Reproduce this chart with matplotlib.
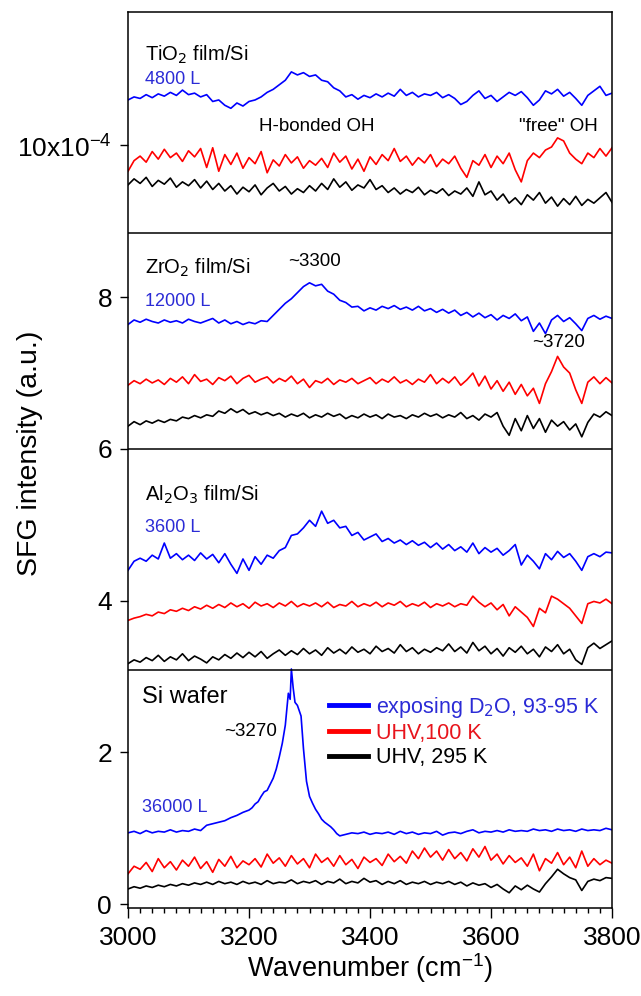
import numpy as np
import matplotlib.pyplot as plt
from matplotlib.lines import Line2D
from matplotlib.ticker import MultipleLocator

plt.rcParams['font.family'] = ['Liberation Sans', 'DejaVu Sans']

# common wavenumber grid (cm-1)
wn = np.arange(3000, 3801, 10)

# TiO2 film/Si
tio2_d2o = [10.60, 10.64, 10.62, 10.67, 10.63, 10.68, 10.65, 10.70, 10.66, 10.73,
            10.67, 10.69, 10.64, 10.67, 10.58, 10.60, 10.53, 10.49, 10.56, 10.52,
            10.58, 10.60, 10.64, 10.70, 10.74, 10.80, 10.86, 10.97, 10.93, 10.96,
            10.91, 10.93, 10.86, 10.84, 10.76, 10.72, 10.64, 10.67, 10.61, 10.66,
            10.63, 10.68, 10.64, 10.69, 10.65, 10.74, 10.66, 10.70, 10.64, 10.68,
            10.66, 10.70, 10.63, 10.67, 10.62, 10.54, 10.58, 10.66, 10.72, 10.62,
            10.66, 10.58, 10.64, 10.70, 10.66, 10.71, 10.63, 10.53, 10.60, 10.72,
            10.68, 10.74, 10.65, 10.70, 10.62, 10.53, 10.66, 10.72, 10.78, 10.66,
            10.69]
tio2_100k = [9.66, 9.80, 9.86, 9.78, 9.92, 9.82, 9.95, 9.84, 9.90, 9.79,
             9.93, 9.85, 9.96, 9.71, 9.97, 9.66, 9.88, 9.75, 9.90, 9.70,
             9.84, 9.76, 9.92, 9.64, 9.81, 9.73, 9.88, 9.77, 9.85, 9.70,
             9.80, 9.74, 9.83, 9.71, 9.90, 9.78, 9.86, 9.69, 9.82, 9.66,
             9.85, 9.75, 9.88, 9.80, 9.96, 9.79, 9.86, 9.74, 9.84, 9.77,
             9.88, 9.72, 9.82, 9.76, 9.86, 9.70, 9.58, 9.80, 9.74, 9.88,
             9.71, 9.86, 9.76, 9.90, 9.68, 9.52, 9.80, 9.90, 9.84, 9.94,
             9.98, 10.10, 10.06, 9.90, 9.82, 9.76, 9.90, 9.84, 9.96, 9.86,
             9.97]
tio2_295k = [9.48, 9.56, 9.50, 9.58, 9.46, 9.54, 9.49, 9.57, 9.45, 9.52,
             9.47, 9.55, 9.44, 9.53, 9.42, 9.50, 9.40, 9.47, 9.36, 9.45,
             9.39, 9.48, 9.35, 9.44, 9.50, 9.40, 9.46, 9.36, 9.43, 9.38,
             9.47, 9.40, 9.50, 9.42, 9.56, 9.45, 9.52, 9.41, 9.48, 9.44,
             9.55, 9.42, 9.47, 9.38, 9.44, 9.36, 9.42, 9.38, 9.45, 9.35,
             9.41, 9.37, 9.43, 9.34, 9.40, 9.36, 9.44, 9.33, 9.52, 9.35,
             9.40, 9.28, 9.36, 9.24, 9.31, 9.22, 9.35, 9.28, 9.38, 9.24,
             9.32, 9.20, 9.30, 9.22, 9.33, 9.21, 9.29, 9.24, 9.31, 9.38,
             9.25]

# ZrO2 film/Si
zro2_d2o = [7.64, 7.70, 7.67, 7.71, 7.68, 7.66, 7.70, 7.67, 7.69, 7.66,
            7.71, 7.68, 7.66, 7.69, 7.72, 7.66, 7.70, 7.65, 7.68, 7.64,
            7.67, 7.65, 7.69, 7.68, 7.76, 7.84, 7.92, 7.98, 8.06, 8.14,
            8.19, 8.15, 8.17, 8.08, 8.04, 7.96, 7.93, 7.87, 7.88, 7.82,
            7.86, 7.83, 7.88, 7.85, 7.89, 7.84, 7.87, 7.83, 7.88, 7.82,
            7.85, 7.80, 7.84, 7.79, 7.83, 7.76, 7.80, 7.74, 7.79, 7.73,
            7.77, 7.70, 7.76, 7.72, 7.78, 7.69, 7.74, 7.55, 7.66, 7.52,
            7.70, 7.76, 7.68, 7.73, 7.65, 7.56, 7.72, 7.76, 7.71, 7.75,
            7.72]
zro2_100k = [6.84, 6.90, 6.86, 6.92, 6.87, 6.91, 6.85, 6.93, 6.88, 6.95,
             6.86, 6.98, 6.89, 6.92, 6.85, 6.94, 6.90, 6.96, 6.86, 6.93,
             6.97, 6.88, 6.92, 6.95, 6.87, 6.93, 6.89, 6.96, 6.86, 6.92,
             6.81, 6.90, 6.87, 6.93, 6.85, 6.91, 6.88, 6.93, 6.86, 6.90,
             6.94, 6.86, 6.92, 6.88, 6.95, 6.87, 6.91, 6.85, 6.92, 6.88,
             6.98, 6.86, 6.93, 6.87, 6.95, 6.84, 6.91, 7.00, 6.83, 6.96,
             6.79, 6.90, 6.76, 6.88, 6.72, 6.85, 6.70, 6.80, 6.60, 6.86,
             7.02, 7.22, 7.08, 7.00, 6.78, 6.60, 6.88, 6.95, 6.86, 6.94,
             6.87]
zro2_295k = [6.30, 6.36, 6.32, 6.37, 6.34, 6.38, 6.35, 6.39, 6.37, 6.42,
             6.40, 6.44, 6.41, 6.45, 6.43, 6.50, 6.47, 6.53, 6.48, 6.52,
             6.46, 6.49, 6.45, 6.48, 6.44, 6.47, 6.42, 6.46, 6.43, 6.47,
             6.41, 6.45, 6.42, 6.47, 6.43, 6.46, 6.40, 6.44, 6.41, 6.46,
             6.42, 6.45, 6.40, 6.46, 6.42, 6.44, 6.40, 6.45, 6.42, 6.47,
             6.43, 6.46, 6.41, 6.45, 6.42, 6.48, 6.40, 6.44, 6.38, 6.46,
             6.42, 6.48, 6.30, 6.18, 6.40, 6.24, 6.44, 6.27, 6.40, 6.22,
             6.38, 6.30, 6.36, 6.25, 6.33, 6.16, 6.35, 6.46, 6.42, 6.49,
             6.44]

# Al2O3 film/Si
al2o3_d2o = [4.40, 4.52, 4.56, 4.52, 4.60, 4.55, 4.76, 4.56, 4.62, 4.54,
             4.60, 4.53, 4.63, 4.55, 4.61, 4.50, 4.62, 4.48, 4.36, 4.55,
             4.40, 4.58, 4.48, 4.60, 4.56, 4.66, 4.70, 4.86, 4.88, 4.96,
             5.06, 4.98, 5.18, 5.02, 5.06, 4.96, 4.98, 4.86, 4.90, 4.80,
             4.84, 4.88, 4.78, 4.82, 4.76, 4.80, 4.74, 4.79, 4.73, 4.77,
             4.70, 4.76, 4.68, 4.74, 4.66, 4.71, 4.64, 4.76, 4.62, 4.70,
             4.64, 4.69, 4.60, 4.66, 4.74, 4.47, 4.60, 4.52, 4.42, 4.62,
             4.54, 4.65, 4.57, 4.62, 4.52, 4.40, 4.58, 4.62, 4.58, 4.64,
             4.63]
al2o3_100k = [3.74, 3.77, 3.79, 3.82, 3.80, 3.85, 3.83, 3.88, 3.86, 3.90,
              3.87, 3.92, 3.89, 3.94, 3.90, 3.95, 3.91, 3.97, 3.92, 3.96,
              3.90, 3.98, 3.93, 3.96, 3.91, 3.97, 3.93, 3.99, 3.92, 3.96,
              3.93, 3.97, 3.92, 3.98, 3.91, 3.95, 3.93, 3.99, 3.92, 3.96,
              3.93, 3.98, 3.92, 3.97, 3.94, 3.99, 3.92, 3.96, 3.93, 3.98,
              3.91, 3.96, 3.93, 3.97, 3.92, 3.96, 3.94, 4.06, 3.98, 3.92,
              3.97, 3.88, 3.95, 3.80, 3.92, 3.85, 3.78, 3.66, 3.90, 3.84,
              4.06, 4.02, 3.96, 3.90, 3.80, 3.70, 3.96, 3.99, 3.97, 4.02,
              3.96]
al2o3_295k = [3.17, 3.22, 3.19, 3.25, 3.21, 3.28, 3.20, 3.26, 3.22, 3.30,
              3.21, 3.27, 3.23, 3.18, 3.26, 3.22, 3.29, 3.24, 3.31, 3.25,
              3.32, 3.26, 3.33, 3.24, 3.30, 3.35, 3.28, 3.34, 3.29, 3.37,
              3.30, 3.35, 3.28, 3.38, 3.31, 3.36, 3.30, 3.39, 3.32, 3.36,
              3.30, 3.40, 3.33, 3.37, 3.31, 3.42, 3.33, 3.38, 3.30, 3.36,
              3.32, 3.38, 3.34, 3.43, 3.33, 3.39, 3.31, 3.45, 3.34, 3.40,
              3.30, 3.37, 3.27, 3.38, 3.32, 3.40, 3.30, 3.36, 3.26, 3.39,
              3.33, 3.42, 3.30, 3.36, 3.22, 3.16, 3.38, 3.44, 3.37, 3.42,
              3.47]

# Si wafer (finer steps through the narrow 3270 band)
wn_si = [3000, 3010, 3020, 3030, 3040, 3050, 3060, 3070, 3080, 3090,
         3100, 3110, 3120, 3130, 3140, 3150, 3160, 3170, 3180, 3190,
         3200, 3205, 3210, 3215, 3220, 3225, 3230, 3235, 3240, 3245,
         3250, 3255, 3260, 3265, 3268, 3270, 3273, 3276, 3280, 3283,
         3286, 3290, 3295, 3300, 3305, 3310, 3315, 3320, 3325, 3330,
         3335, 3340, 3345, 3350, 3360, 3370, 3380, 3390, 3400, 3410,
         3420, 3430, 3440, 3450, 3460, 3470, 3480, 3490, 3500, 3510,
         3520, 3530, 3540, 3550, 3560, 3570, 3580, 3590, 3600, 3610,
         3620, 3630, 3640, 3650, 3660, 3670, 3680, 3690, 3700, 3710,
         3720, 3730, 3740, 3750, 3760, 3770, 3780, 3790, 3800]
si_d2o = [0.94, 0.96, 0.93, 0.97, 0.94, 0.96, 0.95, 0.98, 0.95, 0.97,
          0.96, 0.99, 0.97, 1.04, 1.06, 1.08, 1.10, 1.14, 1.17, 1.21,
          1.24, 1.27, 1.32, 1.35, 1.42, 1.48, 1.50, 1.58, 1.66, 1.78,
          1.94, 2.12, 2.36, 2.78, 2.70, 3.10, 2.85, 2.66, 2.62, 2.55,
          2.48, 2.05, 1.62, 1.42, 1.33, 1.25, 1.19, 1.12, 1.08, 1.05,
          1.02, 0.98, 0.93, 0.90, 0.92, 0.94, 0.93, 0.95, 0.92, 0.94,
          0.93, 0.95, 0.92, 0.96, 0.93, 0.95, 0.92, 0.94, 0.93, 0.96,
          0.91, 0.94, 0.95, 0.93, 0.96, 0.98, 0.94, 0.96, 0.95, 0.97,
          0.95, 0.98, 0.96, 0.97, 0.96, 0.99, 0.97, 0.98, 0.96, 0.99,
          0.97, 0.98, 0.96, 0.99, 0.97, 0.98, 0.97, 1.00, 0.98]
si_100k = [0.40, 0.50, 0.46, 0.55, 0.43, 0.60, 0.48, 0.56, 0.45, 0.58,
           0.50, 0.62, 0.47, 0.56, 0.42, 0.59, 0.50, 0.63, 0.48, 0.57,
           0.52, 0.60, 0.49, 0.66, 0.54, 0.61, 0.50, 0.64, 0.53, 0.60,
           0.48, 0.66, 0.55, 0.61, 0.50, 0.64, 0.52, 0.59, 0.47, 0.62,
           0.55, 0.60, 0.51, 0.66, 0.56, 0.63, 0.54, 0.70, 0.60, 0.74,
           0.62, 0.70, 0.58, 0.72, 0.60, 0.68, 0.57, 0.73, 0.62, 0.76,
           0.58, 0.66, 0.53, 0.64, 0.55, 0.61, 0.50, 0.66, 0.44, 0.60,
           0.54, 0.68, 0.52, 0.62, 0.48, 0.70, 0.50, 0.60, 0.52, 0.58,
           0.54]
si_295k = [0.20, 0.23, 0.21, 0.24, 0.22, 0.25, 0.23, 0.26, 0.24, 0.27,
           0.25, 0.28, 0.26, 0.29, 0.26, 0.30, 0.27, 0.29, 0.26, 0.30,
           0.27, 0.29, 0.26, 0.31, 0.27, 0.29, 0.28, 0.32, 0.27, 0.30,
           0.28, 0.31, 0.26, 0.30, 0.28, 0.33, 0.27, 0.30, 0.28, 0.34,
           0.29, 0.31, 0.26, 0.30, 0.27, 0.31, 0.26, 0.29, 0.27, 0.30,
           0.26, 0.29, 0.27, 0.30, 0.26, 0.29, 0.24, 0.28, 0.25, 0.27,
           0.22, 0.26, 0.20, 0.15, 0.24, 0.19, 0.25, 0.20, 0.16, 0.27,
           0.36, 0.46, 0.40, 0.35, 0.32, 0.18, 0.30, 0.33, 0.31, 0.35,
           0.34]

# boundaries between the stacked panels
panel_breaks = [3.09, 6.0, 8.85]

yticks = [0, 2, 4, 6, 8, 10]
ytick_labels = ['0', '2', '4', '6', '8', '10x10$^{\\mathregular{-4}}$']

c_d2o, c_100k, c_295k = '#0000ff', '#ff0000', 'black'
txt_blue = '#2b2bd6'

fig = plt.figure(figsize=(6.41, 9.96), dpi=100)
ax = fig.add_axes([0.1997, 0.0884, 0.7551, 0.8996])

lw = 1.2
for d2o, k100, k295 in [(tio2_d2o, tio2_100k, tio2_295k),
                        (zro2_d2o, zro2_100k, zro2_295k),
                        (al2o3_d2o, al2o3_100k, al2o3_295k)]:
    ax.plot(wn, k295, color=c_295k, lw=lw)
    ax.plot(wn, k100, color=c_100k, lw=lw)
    ax.plot(wn, d2o, color=c_d2o, lw=lw)
ax.plot(wn, si_295k, color=c_295k, lw=lw)
ax.plot(wn, si_100k, color=c_100k, lw=lw)
ax.plot(wn_si, si_d2o, color=c_d2o, lw=lw)

for yb in panel_breaks:
    ax.axhline(yb, color='black', lw=1.1)

ax.set_xlim(3000, 3800)
ax.set_ylim(-0.05, 11.76)
ax.xaxis.set_major_locator(MultipleLocator(200))
ax.xaxis.set_minor_locator(MultipleLocator(20))
ax.set_yticks(yticks)
ax.set_yticklabels(ytick_labels)
ax.tick_params(axis='x', which='major', direction='out', length=7, width=1.0,
               labelsize=19, pad=6)
ax.tick_params(axis='x', which='minor', direction='out', length=3.5, width=1.0)
ax.tick_params(axis='y', which='major', direction='out', length=5.5, width=1.0,
               labelsize=19, pad=6)
for s in ax.spines.values():
    s.set_linewidth(1.1)

ax.set_xlabel('Wavenumber (cm$^{\\mathregular{-1}}$)', fontsize=19.5, labelpad=1)
fig.text(30 / 641, 0.545, 'SFG intensity (a.u.)', fontsize=20.5, rotation=90,
         ha='center', va='center')

# panel labels
ax.text(3028, 11.2, 'TiO$_2$ film/Si', fontsize=14.5, va='center')
ax.text(3028, 10.87, '4800 L', fontsize=13, color=txt_blue, va='center')
ax.text(3312, 10.25, 'H-bonded OH', fontsize=13.5, ha='center', va='center')
ax.text(3711, 10.25, '"free" OH', fontsize=13.5, ha='center', va='center')

ax.text(3028, 8.39, 'ZrO$_2$ film/Si', fontsize=14.5, va='center')
ax.text(3309, 8.47, '~3300', fontsize=13.5, ha='center', va='center')
ax.text(3028, 7.95, '12000 L', fontsize=13, color=txt_blue, va='center')
ax.text(3711, 7.40, '~3720', fontsize=13.5, ha='center', va='center')

ax.text(3028, 5.40, 'Al$_2$O$_3$ film/Si', fontsize=14.5, va='center')
ax.text(3028, 4.97, '3600 L', fontsize=13, color=txt_blue, va='center')

ax.text(3023, 2.73, 'Si wafer', fontsize=17, va='center')
ax.text(3202, 2.27, '~3270', fontsize=13.5, ha='center', va='center')
ax.text(3023, 1.28, '36000 L', fontsize=13, color=txt_blue, va='center')

handles = [Line2D([], [], color=c_d2o, lw=3.5),
           Line2D([], [], color=c_100k, lw=3.5),
           Line2D([], [], color=c_295k, lw=3.5)]
labels = ['exposing D$_2$O, 93-95 K', 'UHV,100 K', 'UHV, 295 K']
leg = ax.legend(handles, labels, loc='upper left', bbox_to_anchor=(0.415, 0.238),
                frameon=False, fontsize=15.5, handlelength=1.8, handletextpad=0.4,
                labelspacing=0.15, borderpad=0, borderaxespad=0)
for t, c in zip(leg.get_texts(), [txt_blue, '#e8141c', 'black']):
    t.set_color(c)

fig.savefig('out.png', dpi=100)
